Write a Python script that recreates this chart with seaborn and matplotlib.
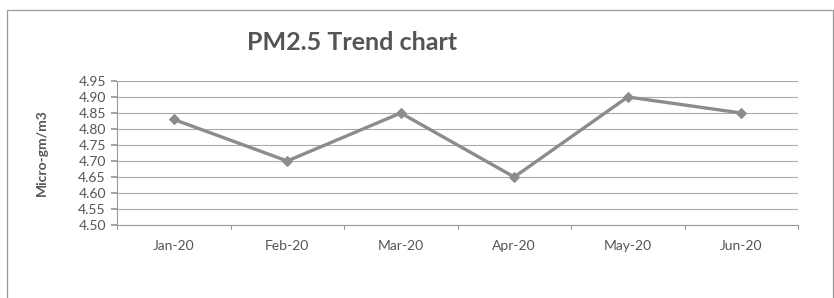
import matplotlib
matplotlib.use("Agg")
import matplotlib.pyplot as plt
import seaborn as sns
import pandas as pd
from matplotlib.patches import Rectangle

months = ["Jan-20", "Feb-20", "Mar-20", "Apr-20", "May-20", "Jun-20"]
pm25 = [4.83, 4.70, 4.85, 4.65, 4.90, 4.85]
yticks = [4.50, 4.55, 4.60, 4.65, 4.70, 4.75, 4.80, 4.85, 4.90, 4.95]

sns.set_theme(style="white")
plt.rcParams['font.family'] = ['Lato', 'DejaVu Sans']

df = pd.DataFrame({"x": list(range(len(months))), "Month": months, "PM2.5": pm25})

fig = plt.figure(figsize=(8.34, 2.98), dpi=100)
ax = fig.add_axes([117/834, 73/298, 681/834, 144/298])

# outer chart frame
fig.add_artist(Rectangle((7/834, -0.05), 826/834, 1.05 - 10/298, transform=fig.transFigure,
                         fill=False, edgecolor="#9a9a9a", linewidth=0.9))

sns.lineplot(data=df, x="x", y="PM2.5", ax=ax, color="#8c8c8c", linewidth=2.4,
             marker="D", markersize=5.5, markeredgecolor="#8c8c8c", markerfacecolor="#8c8c8c")

ax.set_xlim(-0.5, len(months) - 0.5)
ax.set_ylim(4.50, 4.95)
ax.set_yticks(yticks)
ax.set_yticklabels([f"{v:.2f}" for v in yticks], fontsize=10, color="#555555")
ax.set_xticks(range(len(months)))
ax.set_xticklabels(months, fontsize=10, color="#555555")
ax.tick_params(axis="x", length=0, pad=11)
ax.tick_params(axis="y", length=4, color="#999999", pad=4, direction="out", left=True)

# boundary tick marks on x axis
for b in [i - 0.5 for i in range(len(months) + 1)]:
    ax.plot([b, b], [4.50, 4.488], color="#999999", lw=0.8, clip_on=False)

ax.grid(axis="y", color="#aaaaaa", linewidth=0.8)
ax.grid(axis="x", visible=False)
for s in ["top", "right"]:
    ax.spines[s].set_visible(False)
ax.spines["left"].set_color("#999999")
ax.spines["bottom"].set_color("#999999")
ax.spines["left"].set_linewidth(0.8)
ax.spines["bottom"].set_linewidth(0.8)

ax.set_xlabel("")
ax.set_ylabel("Micro-gm/m3", fontsize=10, fontweight="bold", color="#555555")
ax.yaxis.set_label_coords(-0.102, 0.5)

fig.text(352/834, 1 - 42/298, "PM2.5 Trend chart", fontsize=18, fontweight="bold",
         color="#555555", ha="center", va="center")

fig.savefig("out.png", dpi=100, facecolor="white")
